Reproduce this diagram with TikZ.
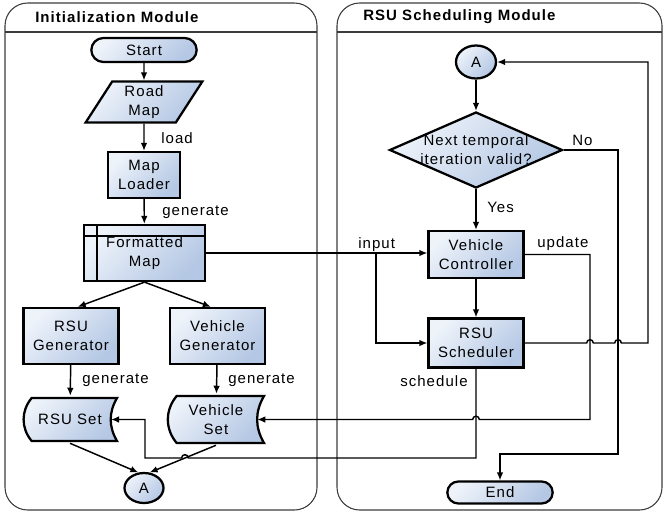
\documentclass[tikz,border=0pt]{standalone}
\usepackage{fontspec}
\setmainfont{Liberation Sans}[LetterSpace=7]
\usetikzlibrary{shapes.geometric, shapes.misc, arrows.meta}

\definecolor{boxtop}{RGB}{238,243,250}
\definecolor{boxbottom}{RGB}{180,199,228}
\definecolor{panelline}{RGB}{60,60,60}

\begin{document}
\begin{tikzpicture}[x=0.75pt, y=-0.75pt,
        every node/.style={font=\fontsize{11.25}{14.25}\selectfont, align=center},
        >={Latex[length=6pt, width=5pt]},
        boxshade/.style={top color=boxtop, bottom color=boxbottom, shading angle=45},
        block/.style={draw, line width=1.7pt, boxshade, inner sep=1pt},
        terminal/.style={block, rounded rectangle, minimum width=81pt},
        iobox/.style={block, trapezium, trapezium left angle=64, trapezium right angle=116,
            trapezium stretches=true, minimum width=87.75pt, minimum height=30.75pt},
        process/.style={block, rectangle},
        internal/.style={process, path picture={
            \draw[line width=1.7pt] ([yshift=-8.25pt]path picture bounding box.north west)
                -- ([yshift=-8.25pt]path picture bounding box.north east);
            \draw[line width=1.7pt] ([xshift=9.75pt]path picture bounding box.north west)
                -- ([xshift=9.75pt]path picture bounding box.south west);}},
        storage/.style={rectangle, inner sep=0pt, path picture={
            \path[draw=black, line width=1.7pt, boxshade]
                ([xshift=8pt, yshift=1.5pt]path picture bounding box.south west)
                to[bend left=40] ([xshift=8pt, yshift=-1.5pt]path picture bounding box.north west)
                -- ([xshift=-1.5pt, yshift=-1.5pt]path picture bounding box.north east)
                to[bend right=30] ([xshift=-1.5pt, yshift=1.5pt]path picture bounding box.south east)
                -- cycle;}},
        decision/.style={block, diamond, inner sep=0pt, minimum width=129.75pt, minimum height=57pt},
        connector/.style={block, ellipse, inner sep=0pt},
        panel/.style={draw=panelline, line width=0.8pt, rounded corners=17pt},
        flow/.style={line width=1.1pt},
        lbl/.style={anchor=west, inner sep=0pt}]

        \useasboundingbox (0,0) rectangle (664,515);

        % Modules
        \draw[panel] (5,3) rectangle (317,510);
        \draw[panelline, line width=0.8pt] (5,32) -- (317,32);
        \node[lbl, font=\fontsize{11.25}{14.25}\selectfont\bfseries] (inittitle) at (35,17) {Initialization Module};
        \draw[panel] (337,3) rectangle (662,510);
        \draw[panelline, line width=0.8pt] (337,32) -- (662,32);
        \node[lbl, font=\fontsize{11.25}{14.25}\selectfont\bfseries] (schedtitle) at (363,17) {RSU Scheduling Module};

        % Nodes
        \node[terminal, minimum height=18pt] (start) at (144,50) {Start};
        \node[iobox] (roadmap) at (144,102) {Road\\Map};
        \node[process, minimum width=54pt, minimum height=34.5pt] (loader) at (144,175) {Map\\Loader};
        \node[internal, minimum width=90.75pt, minimum height=42pt] (fmap) at (144.5,253) {Formatted\\Map};
        \node[process, minimum width=71.25pt, minimum height=42pt] (rsugen) at (71,336) {RSU\\Generator};
        \node[process, minimum width=71.25pt, minimum height=42pt] (vehgen) at (217.5,336) {Vehicle\\Generator};
        \node[storage, minimum width=73.5pt, minimum height=35.25pt] (rsuset) at (70,419.5) {RSU Set};
        \node[storage, minimum width=75pt, minimum height=38.25pt] (vehset) at (216,419.5) {Vehicle\\Set};
        \node[connector, minimum width=29.25pt, minimum height=22.5pt] (conna) at (144,488) {A};

        \node[connector, minimum width=30pt, minimum height=24.75pt] (connb) at (476,62) {A};
        \node[decision, label={center:Next temporal\\iteration valid?}] (check) at (476,150) {};
        \node[process, minimum width=71.25pt, minimum height=35.25pt] (ctrl) at (476,254.5) {Vehicle\\Controller};
        \node[process, minimum width=71.25pt, minimum height=36.75pt] (sched) at (476,343) {RSU\\Scheduler};
        \node[terminal, minimum height=16.5pt] (stop) at (500,492.5) {End};

        % Labels
        \node[lbl] (lload) at (161,138) {load};
        \node[lbl] (lgen) at (162,212) {generate};
        \node[lbl] (lgenrsu) at (82,380) {generate};
        \node[lbl] (lgenveh) at (228,380) {generate};
        \node[lbl] (lno) at (572,140) {No};
        \node[lbl] (lyes) at (487,207) {Yes};
        \node[lbl] (linput) at (358,245) {input};
        \node[lbl] (lupdate) at (537,244) {update};
        \node[lbl] (lschedule) at (400,381) {schedule};

        \coordinate (split) at (376,253);
        \coordinate (hopv) at (intersection of vehset.south--conna.70 and 100,458--300,458);

        % Edges
        \draw[->, flow] (start) -- (roadmap);
        \draw[->, flow] (roadmap) -- (loader);
        \draw[->, flow] (loader) -- (fmap);
        \draw[->, flow] (fmap.south) -- ([xshift=5pt]rsugen.north);
        \draw[->, flow] (fmap.south) -- ([xshift=-5pt]vehgen.north);
        \draw[->, flow] (rsugen) -- (rsuset);
        \draw[->, flow] (vehgen) -- (vehset);
        \draw[->, flow] (rsuset.south) -- (conna.110);
        \draw[->, flow] (vehset.south) -- (conna.70);

        \draw[->, flow] (connb) -- (check);
        \draw[->, flow] (check) -- (ctrl);
        \draw[->, flow] (ctrl) -- (sched);
        \draw[->, flow] (check.east) -| (618,454) -| (stop.north);
        \draw[->, flow] (fmap.east) -- (fmap.east -| ctrl.west);
        \draw[->, flow] (split) |- (sched.west);
        \draw[->, flow] (ctrl.east) -| (590,419.5) -- ([xshift=2.5pt]476,419.5)
            arc[start angle=0, end angle=180, radius=2.5pt] -- ([xshift=-6.7pt]vehset.east);
        \draw[->, flow] (sched.south) -- (476,458) -- ([xshift=2.5pt]hopv)
            arc[start angle=0, end angle=180, radius=2.5pt] -- (145,458) -- (145,419.5)
            -- ([xshift=-6.2pt]rsuset.east);
        \draw[->, flow] (sched.east) -- ([xshift=-2.5pt]590,343)
            arc[start angle=180, end angle=0, radius=2.5pt] -- ([xshift=-2.5pt]618,343)
            arc[start angle=180, end angle=0, radius=2.5pt] -- (648,343) |- (connb.east);

    \end{tikzpicture}
\end{document}
